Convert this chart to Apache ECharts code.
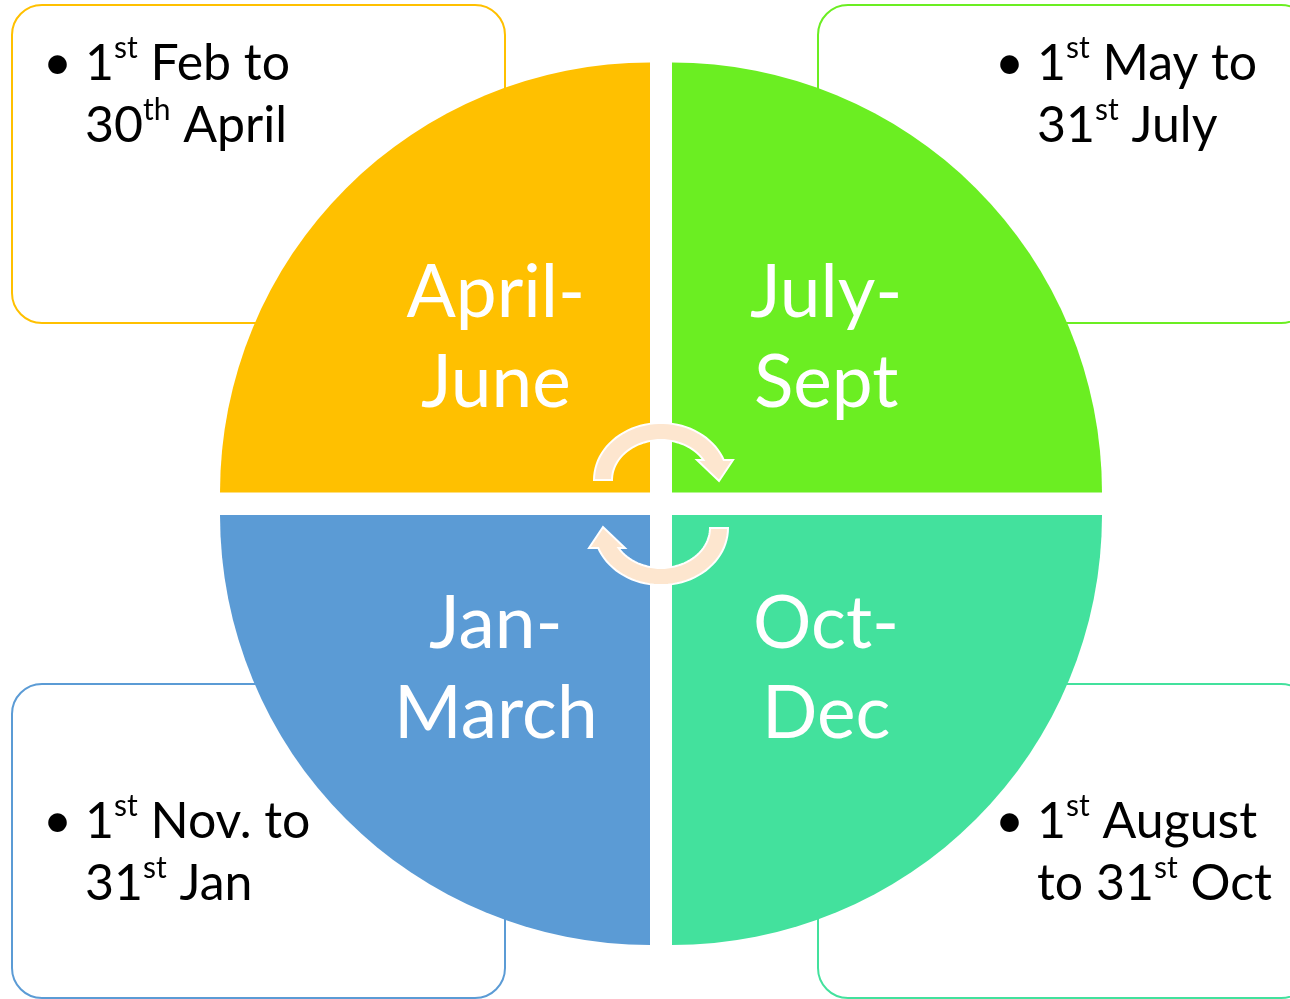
<!DOCTYPE html>
<html>
<head>
<meta charset="utf-8">
<script src="https://cdn.jsdelivr.net/npm/echarts@6/dist/echarts.min.js"></script>
<style>
html, body { margin: 0; padding: 0; background: #fff; }
#chart { width: 1290px; height: 999px; }
</style>
</head>
<body>
<div id="chart"></div>
<script>
const quarters = ['April-\nJune', 'July-\nSept', 'Oct-\nDec', 'Jan-\nMarch'];
const shares = [1, 1, 1, 1];
const periods = ['1st Feb to\n30th April', '1st May to\n31st July', '1st August\nto 31st Oct', '1st Nov. to\n31st Jan'];
const colors = ['#FFC000', '#6BEE22', '#43E19D', '#5B9BD5'];

const FONT = 'Lato, "Open Sans", sans-serif';

// each quarter circle has its own corner, so the white gap keeps a constant width
const layout = [
    { center: [650, 492.5], start: 180, box: [12, 5, 318], text: [85, 33] },
    { center: [672, 492.5], start: 90, box: [818, 5, 318], text: [1037, 33] },
    { center: [672, 515], start: 0, box: [818, 684, 314], text: [1037, 791] },
    { center: [650, 515], start: 270, box: [12, 684, 314], text: [85, 791] }
];

const total = shares.reduce((a, b) => a + b, 0);

function toRich(str) {
    return str.replace(/(\d+)(st|nd|rd|th)/g, '$1{sup|$2}');
}

// circular arrow, s = 1 top one, s = -1 bottom one (half turn about the middle)
function arrowPoints(s) {
    const pts = [];
    const add = (x, y) => pts.push([661 + s * x, 504 + s * y]);
    const rad = Math.PI / 180;
    for (let a = 180; a <= 339.5; a += 4) {
        add(67 * Math.cos(a * rad), -24 + 57 * Math.sin(a * rad));
    }
    add(62.7, -44);
    add(72, -44);
    add(58, -23);
    add(36, -44);
    add(42.4, -44);
    for (let a = 330; a >= 180; a -= 4) {
        add(49 * Math.cos(a * rad), -24 + 40 * Math.sin(a * rad));
    }
    add(-49, -24);
    return pts;
}

let series = quarters.map((q, i) => ({
    type: 'pie',
    silent: true,
    animation: false,
    radius: 430,
    center: layout[i].center,
    startAngle: layout[i].start,
    clockwise: true,
    labelLine: { show: false },
    emphasis: { disabled: true },
    data: [
        {
            value: shares[i],
            name: q,
            itemStyle: { color: colors[i] },
            label: {
                show: true,
                position: 'inside',
                formatter: '{b}',
                color: '#fff',
                fontFamily: FONT,
                fontSize: 73,
                lineHeight: 90
            }
        },
        {
            value: total - shares[i],
            name: '',
            itemStyle: { color: 'rgba(0,0,0,0)' },
            label: { show: false }
        }
    ]
}));

let graphics = [];
periods.forEach((txt, i) => {
    let l = layout[i];
    graphics.push({
        type: 'rect',
        z: 0,
        shape: { x: l.box[0], y: l.box[1], width: 493, height: l.box[2], r: 30 },
        style: { fill: '#fff', stroke: colors[i], lineWidth: 2 }
    });
    graphics.push({
        type: 'text',
        z: 5,
        style: {
            x: l.text[0] - 42, y: l.text[1],
            text: '•',
            fill: '#000',
            font: '50px ' + FONT,
            lineHeight: 62
        }
    });
    graphics.push({
        type: 'text',
        z: 5,
        style: {
            x: l.text[0], y: l.text[1],
            text: toRich(txt),
            fill: '#000',
            fontFamily: FONT,
            fontSize: 50,
            lineHeight: 62,
            rich: {
                sup: { fontFamily: FONT, fontSize: 30, lineHeight: 36, verticalAlign: 'top', fill: '#000' }
            }
        }
    });
});
[1, -1].forEach(s => {
    graphics.push({
        type: 'polygon',
        z: 10,
        shape: { points: arrowPoints(s) },
        style: { fill: '#FDE6CF', stroke: '#fff', lineWidth: 2 }
    });
});

let chart = echarts.init(document.getElementById('chart'));
let option = {
    backgroundColor: '#fff',
    animation: false,
    graphic: graphics,
    series: series
};
chart.setOption(option);
</script>
</body>
</html>
